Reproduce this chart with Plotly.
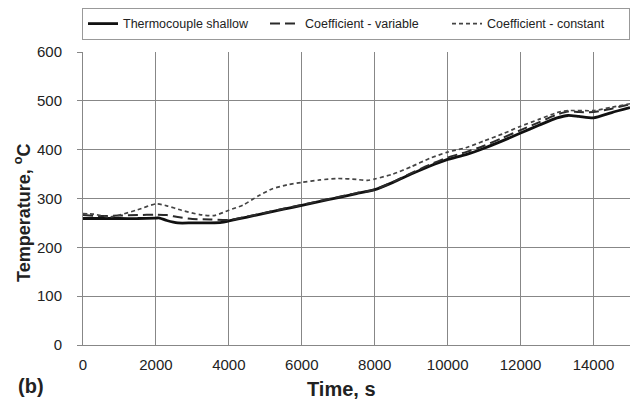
import plotly.graph_objects as go

# Measured thermocouple record (shallow position)
time_tc = [0, 500, 1000, 1500, 2000, 2100, 2300, 2600, 3000, 3500, 3800, 4000, 4500,
           5000, 5500, 6000, 6500, 7000, 7500, 8000, 8500, 9000, 9500, 10000, 10500,
           11000, 11500, 12000, 12500, 13000, 13300, 13600, 14000, 14500, 15000]
temp_tc = [259, 259, 259, 259, 260, 260, 255, 250, 250, 250, 251, 254, 262,
           270, 278, 286, 294, 302, 310, 318, 333, 350, 366, 380, 390,
           403, 418, 434, 450, 465, 470, 468, 465, 476, 486]

# Model with temperature-dependent heat transfer coefficient
time_var = [0, 500, 1000, 1500, 2000, 2300, 2600, 3000, 3500, 4000, 4500, 5000, 5500,
            6000, 6500, 7000, 7500, 8000, 8500, 9000, 9500, 10000, 10500, 11000,
            11500, 12000, 12500, 13000, 13300, 13600, 14000, 14500, 15000]
temp_var = [266, 264, 265, 266, 267, 266, 262, 258, 257, 256, 263, 271, 279,
            287, 295, 303, 311, 318, 334, 352, 369, 384, 395, 408,
            424, 440, 456, 472, 478, 477, 477, 484, 493]

# Model with constant heat transfer coefficient
time_const = [0, 300, 700, 1000, 1500, 2000, 2300, 2700, 3200, 3600, 4000, 4400, 4800,
              5200, 5600, 6000, 6500, 7000, 7500, 7800, 8000, 8500, 9000, 9500, 10000,
              10500, 11000, 11500, 12000, 12500, 13000, 13300, 14000, 14500, 15000]
temp_const = [269, 268, 262, 266, 277, 289, 285, 276, 267, 265, 276, 287, 305,
              320, 328, 333, 338, 341, 339, 337, 340, 350, 365, 382, 395,
              404, 418, 432, 448, 462, 476, 480, 480, 487, 494]

x_ticks = [0, 2000, 4000, 6000, 8000, 10000, 12000, 14000]
y_ticks = [0, 100, 200, 300, 400, 500, 600]

fig = go.Figure()
fig.add_trace(go.Scatter(x=time_tc, y=temp_tc, mode="lines", name="Thermocouple shallow",
                         line=dict(color="#111111", width=2.8, shape="spline", smoothing=0.6)))
fig.add_trace(go.Scatter(x=time_var, y=temp_var, mode="lines", name="Coefficient - variable",
                         line=dict(color="#2a2a2a", width=2, dash="10px,5px", shape="spline", smoothing=0.6)))
fig.add_trace(go.Scatter(x=time_const, y=temp_const, mode="lines", name="Coefficient - constant",
                         line=dict(color="#444444", width=1.7, dash="4px,3px", shape="spline", smoothing=0.6)))

font_main = "Liberation Sans, Arial, sans-serif"
ink = "#222222"
grid = "#878787"

fig.update_layout(
    width=630, height=400,
    margin=dict(l=83, r=0, t=52, b=55),
    plot_bgcolor="white", paper_bgcolor="white",
    font=dict(family=font_main, size=15, color=ink),
    showlegend=True,
    legend=dict(orientation="h", x=0, xanchor="left", y=1.041, yanchor="bottom",
                bordercolor="#999999", borderwidth=1, bgcolor="white",
                font=dict(size=12.5, color=ink),
                entrywidth=137, entrywidthmode="pixels", tracegroupgap=0,
                itemwidth=30),
    xaxis=dict(range=[0, 15000], tickvals=x_ticks, ticktext=[str(v) for v in x_ticks],
               showgrid=True, gridcolor=grid, gridwidth=1,
               showline=True, linecolor=grid, linewidth=1,
               ticks="", zeroline=False, ticklabelstandoff=6,
               tickfont=dict(size=15, color=ink)),
    yaxis=dict(range=[0, 600], tickvals=y_ticks,
               showgrid=True, gridcolor=grid, gridwidth=1,
               showline=True, linecolor=grid, linewidth=1,
               ticks="outside", ticklen=5, tickcolor=grid, zeroline=False,
               ticklabelstandoff=12,
               tickfont=dict(size=15, color=ink)),
    annotations=[
        dict(text="<b>Time, s</b>", x=0.4717, y=-0.150, xref="paper", yref="paper",
             xanchor="center", yanchor="middle", showarrow=False,
             font=dict(size=20, color=ink, family=font_main)),
        dict(text="<b>Temperature, <sup>o</sup>C</b>", x=-0.1115, y=0.4505,
             xref="paper", yref="paper", xanchor="center", yanchor="middle",
             textangle=-90, showarrow=False,
             font=dict(size=18, color=ink, family=font_main)),
        dict(text="<b>(b)</b>", x=-0.0951, y=-0.140, xref="paper", yref="paper",
             xanchor="center", yanchor="middle", showarrow=False,
             font=dict(size=20, color=ink, family=font_main)),
    ],
)

fig.write_html("out.html")
